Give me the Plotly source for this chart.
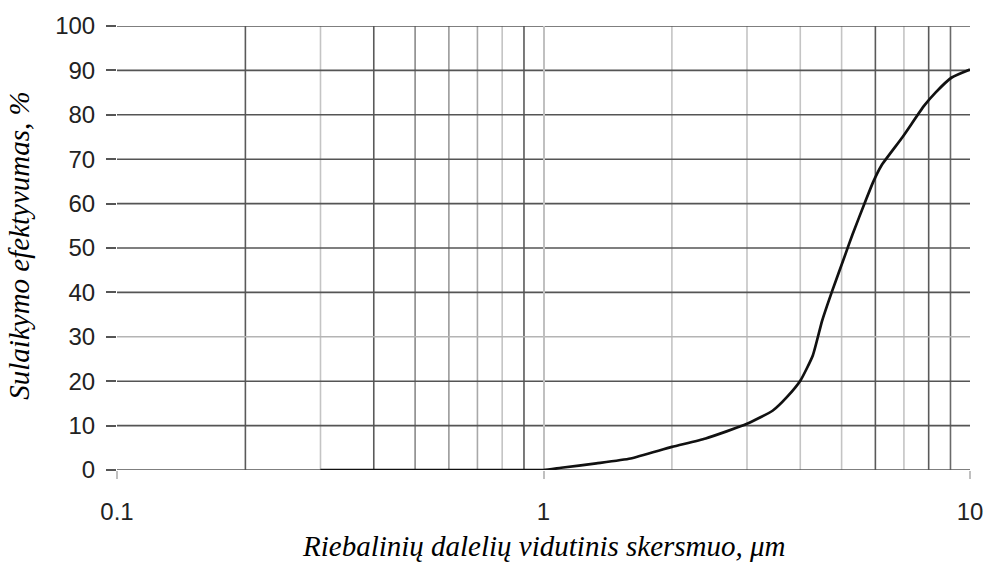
import plotly.graph_objects as go

# Mean fat-particle diameter, µm, and retention efficiency, %
diameter_um = [0.3, 0.5, 0.8, 1.0, 1.1, 1.33, 1.6, 2.0, 2.4, 3.0, 3.45, 3.72,
               4.0, 4.28, 4.5, 4.75, 5.1, 5.3, 5.7, 5.93, 6.2, 6.95, 7.8,
               8.3, 9.06, 10.0]
efficiency_pct = [0, 0, 0, 0, 0.5, 1.5, 2.6, 5.2, 7.1, 10.4, 13.4, 16.4,
                  20.1, 25.8, 33.6, 40.3, 48.5, 53.0, 60.8, 64.9, 68.6, 75.0,
                  82.0, 85.0, 88.4, 90.2]

x_ticks = [0.1, 1, 10]
x_tick_text = ["0.1", "1", "10"]
y_ticks = list(range(0, 101, 10))

# minor vertical grid lines (log scale) and how dark each one prints
minor_x_lines = [0.2, 0.3, 0.4, 0.5, 0.6, 0.7, 0.8, 0.9,
                 2, 3, 4, 5, 6, 7, 8, 9]
minor_x_colors = ["#5a5a5a", "#c4c4c4", "#5a5a5a", "#8a8a8a", "#9a9a9a", "#a8a8a8",
                  "#c4c4c4", "#5a5a5a",
                  "#c4c4c4", "#c4c4c4", "#c4c4c4", "#c4c4c4", "#5a5a5a", "#c4c4c4",
                  "#5a5a5a", "#6a6a6a"]
# horizontal grid line colours, one per y tick
y_grid_colors = ["#555555", "#555555", "#555555", "#b4b4b4", "#555555", "#555555",
                 "#555555", "#555555", "#555555", "#555555", "#555555"]

x_title = "Riebalinių dalelių vidutinis skersmuo, μm"
y_title = "Sulaikymo efektyvumas, %"

tick_font = dict(family="Liberation Sans, Arial, sans-serif", size=24, color="#222222")
title_font = dict(family="Liberation Serif, Times New Roman, serif", size=29,
                  color="#000000", style="italic")

fig = go.Figure()
fig.add_trace(go.Scatter(
    x=diameter_um, y=efficiency_pct, mode="lines",
    line=dict(color="#111111", width=2.7, shape="spline", smoothing=0.5),
    showlegend=False, hoverinfo="skip",
))

shapes = []
for xv, col in zip(minor_x_lines, minor_x_colors):
    shapes.append(dict(type="line", xref="x", yref="paper", x0=xv, x1=xv, y0=0, y1=1,
                       line=dict(color=col, width=1.6), layer="below"))
for yv, col in zip(y_ticks, y_grid_colors):
    shapes.append(dict(type="line", xref="paper", yref="y", x0=0, x1=1, y0=yv, y1=yv,
                       line=dict(color=col, width=1.6), layer="below"))

fig.update_layout(
    width=995, height=572,
    margin=dict(l=117, r=17, t=23, b=102),
    paper_bgcolor="white", plot_bgcolor="white",
    shapes=shapes,
    annotations=[
        dict(text=x_title, xref="paper", yref="paper", x=0.5, y=-0.172,
             xanchor="center", yanchor="middle", showarrow=False,
             font=title_font),
        dict(text=y_title, xref="paper", yref="paper", x=-0.115, y=0.505,
             xanchor="center", yanchor="middle", showarrow=False,
             font=title_font, textangle=-90),
    ],
)

fig.update_xaxes(
    type="log", range=[-1, 1],
    tickvals=x_ticks, ticktext=x_tick_text, tickfont=tick_font,
    ticks="outside", ticklen=8, tickcolor="#c0c0c0", tickwidth=1.6,
    ticklabelstandoff=12,
    showgrid=True, gridcolor="#c0c0c0", gridwidth=1.6,
    showline=False, zeroline=False,
)
fig.update_yaxes(
    range=[0, 100], tickvals=y_ticks, tickfont=tick_font,
    ticks="outside", ticklen=10, tickcolor="#555555", tickwidth=1.6,
    ticklabelstandoff=6,
    showgrid=False,
    showline=False, zeroline=False,
)

fig.write_html("out.html")
